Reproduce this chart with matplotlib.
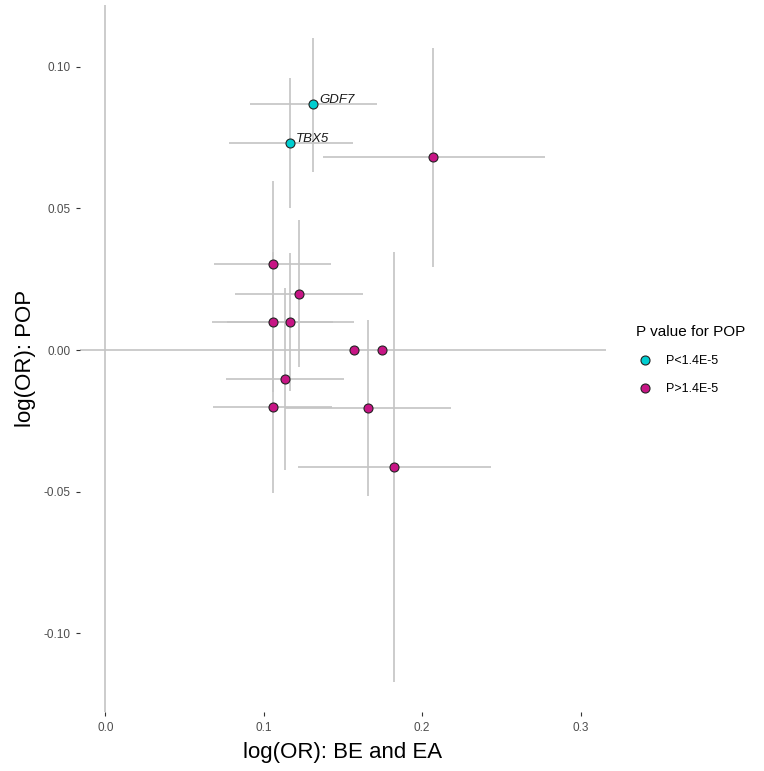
import numpy as np
import matplotlib
matplotlib.use("Agg")
import matplotlib.pyplot as plt
from matplotlib.lines import Line2D

plt.rcParams["font.family"] = ["Liberation Sans", "DejaVu Sans"]

# estimates
genes = ["GDF7", "TBX5", "", "", "", "", "", "", "", "", "", "", ""]
x_or = [0.1309, 0.1164, 0.2066, 0.1055, 0.1223, 0.1055, 0.1166, 0.1572, 0.1744, 0.1134, 0.1055, 0.1658, 0.1822]
x_lo = [0.0912, 0.0779, 0.1372, 0.0685, 0.0817, 0.0672, 0.0767, 0.1572, 0.1744, 0.0760, 0.0676, 0.1132, 0.1216]
x_hi = [0.1713, 0.1562, 0.2773, 0.1427, 0.1625, 0.1435, 0.1568, 0.1572, 0.1744, 0.1507, 0.1433, 0.2184, 0.2432]
y_or = [0.0868, 0.0730, 0.0681, 0.0303, 0.0198, 0.0100, 0.0100, 0.0000, 0.0000, -0.0103, -0.0201, -0.0205, -0.0413]
y_lo = [0.0628, 0.0501, 0.0293, 0.0011, -0.0060, -0.0148, -0.0145, 0.0000, 0.0000, -0.0425, -0.0504, -0.0515, -0.1171]
y_hi = [0.1101, 0.0959, 0.1065, 0.0596, 0.0459, 0.0346, 0.0343, 0.0000, 0.0000, 0.0219, 0.0102, 0.0106, 0.0346]
signif = [True, True, False, False, False, False, False, False, False, False, False, False, False]

x_ticks = [0.0, 0.1, 0.2, 0.3]
y_ticks = [-0.10, -0.05, 0.00, 0.05, 0.10]

col_sig = "#00CED1"
col_ns = "#C71585"
grey = "#C4C4C4"

fig = plt.figure(figsize=(7.64, 7.71), dpi=100)
ax = fig.add_axes([0.1047, 0.0765, 0.6881, 0.917])

x_or = np.array(x_or); y_or = np.array(y_or)
x_lo = np.array(x_lo); x_hi = np.array(x_hi)
y_lo = np.array(y_lo); y_hi = np.array(y_hi)
signif = np.array(signif)

# reference lines
ax.axhline(0, color=grey, lw=1.2, zorder=1)
ax.axvline(0, color=grey, lw=1.2, zorder=1)

# confidence intervals
hm = x_hi > x_lo
ax.hlines(y_or[hm], x_lo[hm], x_hi[hm], color=grey, lw=1.2, zorder=2)
vm = y_hi > y_lo
ax.vlines(x_or[vm], y_lo[vm], y_hi[vm], color=grey, lw=1.2, zorder=2)

ax.scatter(x_or[~signif], y_or[~signif], s=42, c=col_ns, edgecolors="#222222",
           linewidths=0.8, zorder=3)
ax.scatter(x_or[signif], y_or[signif], s=42, c=col_sig, edgecolors="#222222",
           linewidths=0.8, zorder=3)

for g, xx, yy in zip(genes, x_or, y_or):
    if g:
        ax.annotate(g, (xx, yy), xytext=(4.5, 3), textcoords="offset points",
                    fontsize=9.5, style="italic", color="#1a1a1a", va="center", ha="left")

ax.set_xlim(-0.0161, 0.3159)
ax.set_ylim(-0.1277, 0.1217)
ax.set_xticks(x_ticks)
ax.set_xticklabels(["0.0", "0.1", "0.2", "0.3"])
ax.set_yticks(y_ticks)
ax.set_yticklabels(["-0.10", "-0.05", "0.00", "0.05", "0.10"])
for s in ax.spines.values():
    s.set_visible(False)
ax.tick_params(length=3, width=0.8, color="#333333", labelcolor="#4D4D4D",
               labelsize=8.5, pad=4)

ax.set_xlabel("log(OR): BE and EA", fontsize=16, labelpad=6)
ax.set_ylabel("log(OR): POP", fontsize=16, labelpad=5)

handles = [
    Line2D([], [], marker="o", ls="", markersize=6.5, markerfacecolor=col_sig,
           markeredgecolor="#222222", markeredgewidth=0.8, label="P<1.4E-5"),
    Line2D([], [], marker="o", ls="", markersize=6.5, markerfacecolor=col_ns,
           markeredgecolor="#222222", markeredgewidth=0.8, label="P>1.4E-5"),
]
leg = fig.legend(handles=handles, title="P value for POP", loc="upper left",
                 bbox_to_anchor=(0.826, 0.585), frameon=False, fontsize=9,
                 title_fontsize=11, alignment="left", labelspacing=1.3,
                 handlelength=1.4, handletextpad=1.0, borderaxespad=0)

fig.savefig("out.png", dpi=100)
